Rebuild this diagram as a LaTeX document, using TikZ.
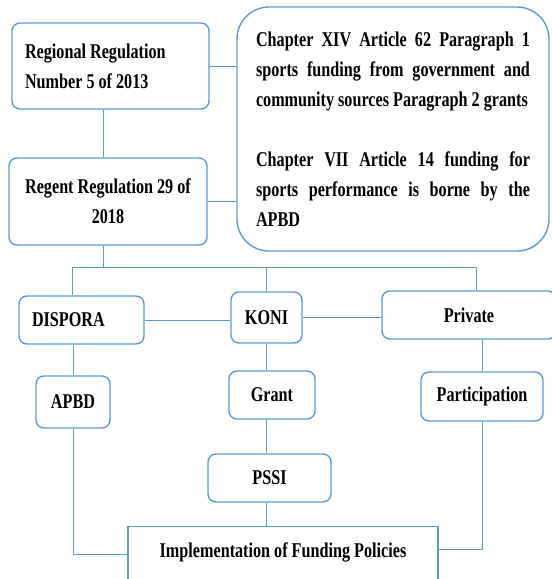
\documentclass[tikz,border=0pt]{standalone}
\usepackage{fontspec}
\setmainfont{Liberation Serif}[FakeStretch=0.77]
\usetikzlibrary{calc}
\definecolor{boxblue}{RGB}{91,155,213}
\tikzset{
    box/.style = {draw=boxblue, line width=1.4pt, rounded corners=8pt,
        inner sep=0pt, align=center,
        font=\bfseries\fontsize{21}{30}\selectfont},
    link/.style = {draw=boxblue, line width=1pt}
}

\begin{document}
\begin{tikzpicture}[x=1pt,y=-1pt]
    \useasboundingbox (0,0) rectangle (552,579);
    \node[box, minimum width=197pt, minimum height=86pt, text width=171pt, align=flush left] (regional) at (110.5,66) {Regional Regulation\\Number 5 of 2013};
    \node[box, minimum width=198pt, minimum height=87pt] (regent) at (108,201.5) {Regent Regulation 29 of\\2018};
    \node[box, rounded corners=32pt, minimum width=312pt, minimum height=244pt, text width=274pt, align=justify] (rules) at (393,129) {Chapter XIV Article 62 Paragraph 1\linebreak sports funding from government and\linebreak community sources Paragraph 2 grants\par\vspace{30pt}Chapter VII Article 14 funding for\linebreak sports performance is borne by the\linebreak APBD};
    \node[box, minimum width=125pt, minimum height=48pt, text width=99pt, align=flush left] (dispora) at (81.5,320) {DISPORA};
    \node[box, minimum width=71pt, minimum height=51pt] (koni) at (266.5,317.5) {KONI};
    \node[box, minimum width=174pt, minimum height=48pt] (private) at (469,315) {Private};
    \node[box, minimum width=74pt, minimum height=52pt] (apbd) at (73,402) {APBD};
    \node[box, minimum width=86pt, minimum height=48pt] (grant) at (272,395) {Grant};
    \node[box, minimum width=123pt, minimum height=48pt] (pssi) at (269.5,478) {PSSI};
    \node[box, minimum width=122pt, minimum height=49pt] (particip) at (482,396.5) {Participation};
    \node[box, sharp corners, anchor=north, minimum width=310pt, text height=31pt, text depth=40pt] (impl) at (283,526) {Implementation of Funding Policies};
    % bus under the regent regulation
    \coordinate (busL) at (72,267);
    \coordinate (busR) at (476,267);
    \coordinate (spine) at (103,0);
    \draw[link] (spine |- regional.south) -- (spine |- regent.north);
    \draw[link] (regional.east) -- (regional.east -| rules.west);
    \draw[link] (regent.east) -- (regent.east -| rules.west);
    \draw[link] (spine |- regent.south) -- (spine |- busL);
    \draw[link] (busL) -- (busR);
    \draw[link] (busL) -- (busL |- dispora.north);
    \draw[link] (koni.north) -- (koni.north |- busL);
    \draw[link] (busR) -- (busR |- private.north);
    \draw[link] (dispora.east) -- (dispora.east -| koni.west);
    \draw[link] (koni.east) -- (koni.east -| private.west);
    % funding sources
    \draw[link] (apbd.north |- dispora.south) -- (apbd.north);
    \draw[link] (koni.south) -- (koni.south |- grant.north);
    \draw[link] (koni.south |- grant.south) -- (koni.south |- pssi.north);
    \draw[link] (koni.south |- pssi.south) -- (koni.south |- impl.north);
    \draw[link] (particip.north |- private.south) -- (particip.north);
    \draw[link] (apbd.south) |- ($(impl.north west)+(0,28)$);
    \draw[link] (particip.south) |- ($(impl.north east)+(0,23)$);
\end{tikzpicture}
\end{document}
